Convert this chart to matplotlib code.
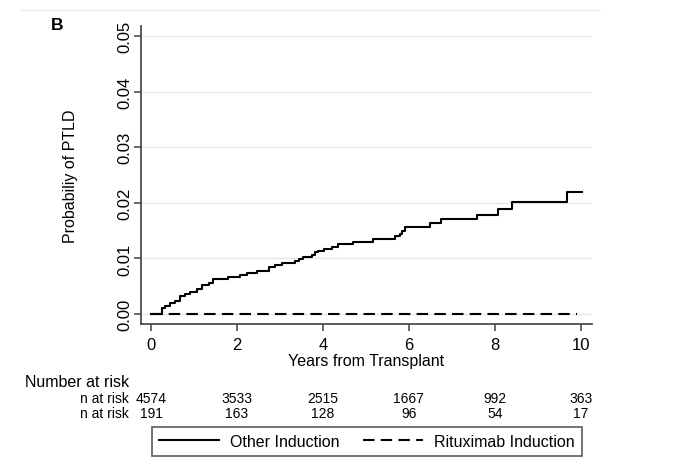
import matplotlib
matplotlib.use('Agg')
import matplotlib.pyplot as plt
from matplotlib.lines import Line2D
from matplotlib.transforms import blended_transform_factory

plt.rcParams['font.family'] = ['Liberation Sans', 'DejaVu Sans']

# Kaplan-Meier style cumulative probability (step after each time)
other_t = [0, 0.25, 0.33, 0.44, 0.55, 0.67, 0.79, 0.91, 1.07, 1.19, 1.35, 1.44,
           1.79, 2.07, 2.23, 2.47, 2.75, 2.88, 3.04, 3.35, 3.45, 3.53, 3.74, 3.81,
           3.89, 4.02, 4.22, 4.36, 4.69, 5.16, 5.67, 5.79, 5.85, 5.91, 6.50, 6.74,
           7.59, 8.08, 8.40, 9.67, 10.02]
other_p = [0, 0.0011, 0.0015, 0.0020, 0.0024, 0.0032, 0.0036, 0.0040, 0.0045,
           0.0052, 0.0056, 0.0063, 0.0067, 0.0070, 0.0074, 0.0078, 0.0084, 0.0088,
           0.0091, 0.0096, 0.0099, 0.0102, 0.0106, 0.0111, 0.0114, 0.0117, 0.0121,
           0.0126, 0.0130, 0.0135, 0.0140, 0.0144, 0.0150, 0.0156, 0.0164, 0.0170,
           0.0178, 0.0189, 0.0201, 0.0220, 0.0220]
ritux_t = [0, 9.9]
ritux_p = [0, 0]

risk_times = [0, 2, 4, 6, 8, 10]
risk_other = [4574, 3533, 2515, 1667, 992, 363]
risk_ritux = [191, 163, 128, 96, 54, 17]

yticks = [0, 0.01, 0.02, 0.03, 0.04, 0.05]
xticks = [0, 2, 4, 6, 8, 10]

W, H = 680, 477
fig = plt.figure(figsize=(6.8, 4.77), dpi=100)
ax = fig.add_axes([141 / W, 1 - 325 / H, (592 - 141) / W, (325 - 27) / H])

ax.set_xlim(-0.233, 10.26)
ax.set_ylim(-0.0018, 0.0518)
ax.set_yticks(yticks)
ax.set_xticks(xticks)
ax.grid(axis='y', color='#e6e6e6', linewidth=1)
ax.set_axisbelow(True)

ax.step(other_t, other_p, where='post', color='black', linewidth=1.5,
        label='Other Induction')
ax.plot(ritux_t, ritux_p, color='black', linewidth=1.5, dashes=(5.5, 3),
        label='Rituximab Induction')

for s in ['top', 'right']:
    ax.spines[s].set_visible(False)
for s in ['left', 'bottom']:
    ax.spines[s].set_color('#404040')
    ax.spines[s].set_linewidth(1.2)
ax.tick_params(axis='both', direction='out', length=5, width=1.1, color='#404040',
               labelsize=12)
ax.tick_params(axis='y', pad=1)
ax.tick_params(axis='x', pad=4)
ax.set_yticklabels([f'{v:.2f}' for v in yticks], rotation=90, va='center')
ax.set_xlabel('Years from Transplant', fontsize=11.5, labelpad=1)
ax.set_ylabel('Probabiliy of PTLD', fontsize=11.5)
ax.yaxis.set_label_coords((78 - 141) / (592 - 141), 0.5)

fig.text(57 / W, 1 - 25 / H, 'B', fontsize=12.5, fontweight='bold',
         ha='center', va='center')
fig.add_artist(Line2D([20 / W, 600 / W], [1 - 11 / H] * 2, color='#eeeeee',
                      linewidth=1))

# number at risk table
tr = blended_transform_factory(ax.transData, fig.transFigure)
fig.text(25 / W, 1 - 383 / H, 'Number at risk', fontsize=11.5, va='center')
for row_y, vals in [(399, risk_other), (414, risk_ritux)]:
    fig.text(129 / W, 1 - row_y / H, 'n at risk', fontsize=10, ha='right',
             va='center')
    for t, n in zip(risk_times, vals):
        ax.text(t, 1 - row_y / H, str(n), transform=tr, fontsize=10,
                ha='center', va='center')

leg = fig.legend(loc='center', bbox_to_anchor=(367 / W, 1 - 442.5 / H), ncol=2,
                 fontsize=11.5, frameon=True, fancybox=False, handlelength=3.75,
                 handletextpad=0.7, columnspacing=1.5, borderpad=0.45)
leg.get_frame().set_edgecolor('#333333')
leg.get_frame().set_linewidth(1.2)

fig.savefig('out.png', dpi=100)
